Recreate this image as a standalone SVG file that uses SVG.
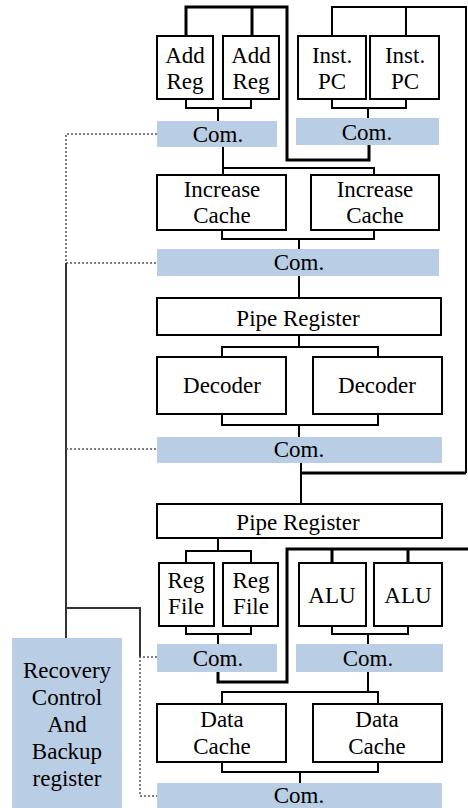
<svg xmlns="http://www.w3.org/2000/svg" width="468" height="808" viewBox="0 0 468 808">
<style>
.box{fill:#fff;stroke:#000;stroke-width:2}
.com{fill:#B9CDE4}
.t{font-family:'Liberation Serif','DejaVu Serif',serif;font-size:23px;text-anchor:middle;fill:#000}
.ln{fill:none;stroke:#000;stroke-width:2}
.th{fill:none;stroke:#000;stroke-width:3}
.dot{fill:none;stroke:#555;stroke-width:1.5;stroke-dasharray:2 2}
.dense{fill:none;stroke:#333;stroke-width:2}
</style>
<rect width="468" height="808" fill="#fff"/>
<g id="connectors">
<path class="th" d="M186 36V7H287V160H369V145M252 7V36"/>
<path class="ln" d="M332 36V7H466V473M406 7V36M301 463V504"/>
<path class="th" d="M301 473H466"/>
<path class="ln" d="M186 99V108H251V99M218 108V121"/>
<path class="ln" d="M332 99V108H406V99M368 108V118"/>
<path class="ln" d="M223 147V175M223 168H374V175"/>
<path class="ln" d="M222 230V239H374V230M299 239V249"/>
<path class="ln" d="M299 276V298"/>
<path class="ln" d="M299 335V347M222 357V347H378V357"/>
<path class="ln" d="M222 414V425H378V414M299 425V437"/>
<path class="ln" d="M218 538V551M186 563V551H251V563"/>
<path class="ln" d="M186 626V634H251V626M218 634V644"/>
<path class="ln" d="M332 626V634H408V626M368 634V644"/>
<path class="th" d="M218 672V682H287V549H468M332 549V563M408 549V563"/>
<path class="ln" d="M368 672V692M222 704V692H378V704"/>
<path class="ln" d="M222 762V772H378V762M300 772V783"/>
<path class="dot" d="M157 134H66V263H157"/>
<path class="dense" d="M66 263V638"/>
<path class="dot" d="M66 449H157"/>
<path class="dense" d="M66 608H140V657"/>
<path class="dot" d="M157 657H140V796H157"/>
</g>
<g id="addreg1"><rect class="box" x="157" y="36" width="56" height="63"/><text class="t" x="185" y="63">Add</text><text class="t" x="185" y="89">Reg</text></g>
<g id="addreg2"><rect class="box" x="223" y="36" width="56" height="63"/><text class="t" x="251" y="63">Add</text><text class="t" x="251" y="89">Reg</text></g>
<g id="instpc1"><rect class="box" x="298" y="36" width="68" height="63"/><text class="t" x="332" y="63">Inst.</text><text class="t" x="332" y="89">PC</text></g>
<g id="instpc2"><rect class="box" x="370" y="36" width="69" height="63"/><text class="t" x="405" y="63">Inst.</text><text class="t" x="405" y="89">PC</text></g>
<g id="com1l"><rect class="com" x="157" y="121" width="120" height="26"/><text class="t" x="218" y="142">Com.</text></g>
<g id="com1r"><rect class="com" x="296" y="118" width="143" height="27"/><text class="t" x="367" y="140">Com.</text></g>
<g id="inccache1"><rect class="box" x="157" y="175" width="129" height="55"/><text class="t" x="222" y="197">Increase</text><text class="t" x="222" y="223">Cache</text></g>
<g id="inccache2"><rect class="box" x="311" y="175" width="128" height="55"/><text class="t" x="375" y="197">Increase</text><text class="t" x="375" y="223">Cache</text></g>
<g id="com2"><rect class="com" x="157" y="249" width="282" height="27"/><text class="t" x="299" y="270">Com.</text></g>
<g id="pipereg1"><rect class="box" x="157" y="298" width="284" height="37"/><text class="t" x="298" y="326">Pipe Register</text></g>
<g id="decoder1"><rect class="box" x="157" y="357" width="129" height="57"/><text class="t" x="222" y="393">Decoder</text></g>
<g id="decoder2"><rect class="box" x="313" y="357" width="129" height="57"/><text class="t" x="377" y="393">Decoder</text></g>
<g id="com3"><rect class="com" x="157" y="437" width="285" height="26"/><text class="t" x="299" y="457">Com.</text></g>
<g id="pipereg2"><rect class="box" x="157" y="504" width="285" height="34"/><text class="t" x="298" y="530">Pipe Register</text></g>
<g id="regfile1"><rect class="box" x="159" y="563" width="55" height="63"/><text class="t" x="186" y="588">Reg</text><text class="t" x="186" y="614">File</text></g>
<g id="regfile2"><rect class="box" x="223" y="563" width="55" height="63"/><text class="t" x="251" y="588">Reg</text><text class="t" x="251" y="614">File</text></g>
<g id="alu1"><rect class="box" x="299" y="563" width="67" height="63"/><text class="t" x="332" y="603">ALU</text></g>
<g id="alu2"><rect class="box" x="374" y="563" width="68" height="63"/><text class="t" x="408" y="603">ALU</text></g>
<g id="com4l"><rect class="com" x="157" y="644" width="120" height="28"/><text class="t" x="218" y="666">Com.</text></g>
<g id="com4r"><rect class="com" x="296" y="644" width="147" height="28"/><text class="t" x="368" y="666">Com.</text></g>
<g id="datacache1"><rect class="box" x="157" y="704" width="129" height="58"/><text class="t" x="222" y="727">Data</text><text class="t" x="222" y="754">Cache</text></g>
<g id="datacache2"><rect class="box" x="313" y="704" width="129" height="58"/><text class="t" x="377" y="727">Data</text><text class="t" x="377" y="754">Cache</text></g>
<g id="com5"><rect class="com" x="157" y="783" width="285" height="30"/><text class="t" x="299" y="803">Com.</text></g>
<g id="recovery"><rect class="com" x="12" y="638" width="110" height="175"/><text class="t" x="67" y="678">Recovery</text><text class="t" x="67" y="705">Control</text><text class="t" x="67" y="732">And</text><text class="t" x="67" y="759">Backup</text><text class="t" x="67" y="786">register</text></g>
</svg>
